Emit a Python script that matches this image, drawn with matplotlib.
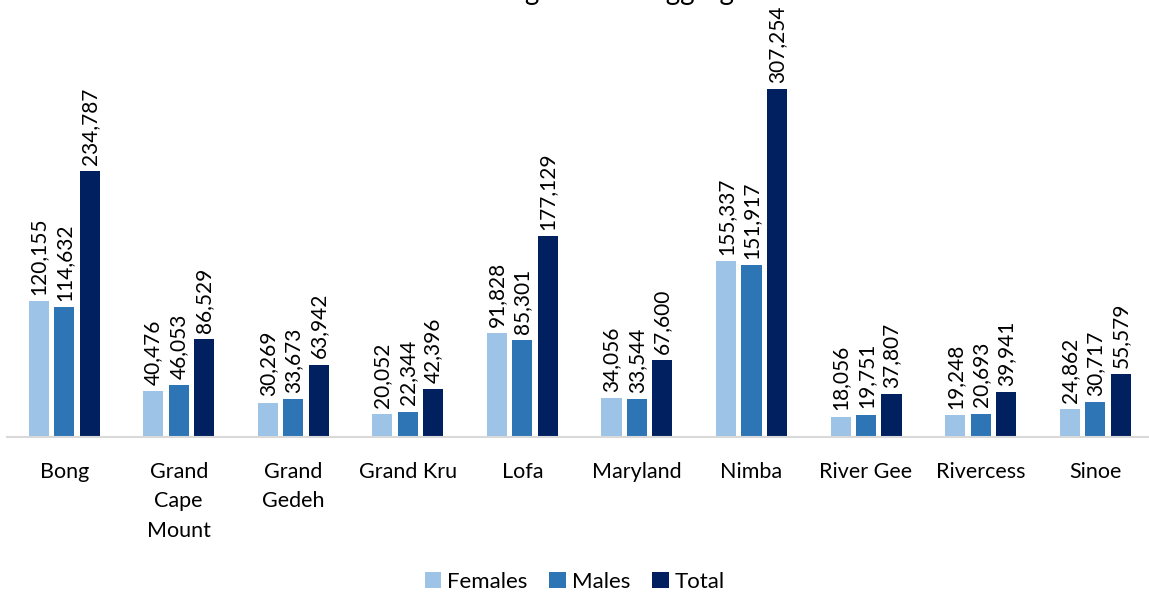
import matplotlib.pyplot as plt
import numpy as np

plt.rcParams['font.family'] = ['Lato', 'DejaVu Sans']

counties = ['Bong', 'Grand\nCape\nMount', 'Grand\nGedeh', 'Grand Kru', 'Lofa',
            'Maryland', 'Nimba', 'River Gee', 'Rivercess', 'Sinoe']
females = [120155, 40476, 30269, 20052, 91828, 34056, 155337, 18056, 19248, 24862]
males = [114632, 46053, 33673, 22344, 85301, 33544, 151917, 19751, 20693, 30717]
total = [234787, 86529, 63942, 42396, 177129, 67600, 307254, 37807, 39941, 55579]

series = [('Females', females, '#9DC3E6'),
          ('Males', males, '#2E75B6'),
          ('Total', total, '#002060')]

fig = plt.figure(figsize=(11.49, 5.93), dpi=100)
ax = fig.add_axes([0.006, 0.263, 0.997, 0.669])

x = np.arange(len(counties))
offsets = [-0.222, 0.0, 0.222]
for (name, vals, col), off in zip(series, offsets):
    bars = ax.bar(x + off, vals, width=0.175, color=col, label=name)
    for b, v in zip(bars, vals):
        ax.annotate(f'{v:,}', (b.get_x() + b.get_width() / 2, v),
                    xytext=(0, 4.5), textcoords='offset points',
                    rotation=90, ha='center', va='bottom',
                    fontsize=15, color='black')

ax.set_xlim(-0.5, len(counties) - 0.5)
ax.set_ylim(0, 350000)
ax.set_xticks(x)
ax.set_xticklabels(counties, fontsize=15.5, linespacing=1.58, va='top')
ax.tick_params(axis='x', length=0, pad=18)
ax.set_yticks([])
for s in ['top', 'right', 'left']:
    ax.spines[s].set_visible(False)
ax.spines['bottom'].set_color('#D9D9D9')
ax.spines['bottom'].set_linewidth(1.5)

fig.text(0.51, 1.0, 'Voter Listing Data Disaggregated', ha='center',
         va='baseline', fontsize=20)

fig.legend(loc='lower center', ncol=3, frameon=False, fontsize=16,
           bbox_to_anchor=(0.5, -0.032), handlelength=0.75, handleheight=0.75,
           handletextpad=0.25, columnspacing=1.0)

fig.savefig('out.png', dpi=100)
